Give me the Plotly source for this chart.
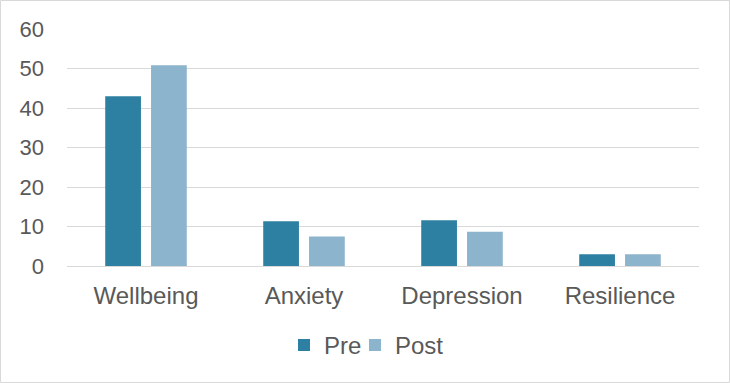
import plotly.graph_objects as go

categories = ["Wellbeing", "Anxiety", "Depression", "Resilience"]
pre = [43, 11.3, 11.6, 3.0]
post = [50.8, 7.5, 8.7, 3.0]
series_names = ["Pre", "Post"]
colors = ["#2E80A3", "#8DB4CD"]

W, H = 730, 383
ml, mr, mt, mb = 67, 31, 29, 117
pw, ph = W - ml - mr, H - mt - mb
FS = 24

def px_x(p):
    return (p - ml) / pw

def px_y(p):
    return (H - mb - p) / ph

fig = go.Figure()
legend_ids = ["legend", "legend2"]
for name, vals, c, lg in zip(series_names, [pre, post], colors, legend_ids):
    fig.add_trace(go.Bar(x=categories, y=vals, name=name, legend=lg,
                         marker=dict(color=c, line=dict(width=0))))

fig.add_shape(type="rect", xref="paper", yref="paper",
              x0=px_x(0.5), x1=px_x(W - 0.5), y0=px_y(H - 0.5), y1=px_y(0.5),
              line=dict(color="#D9D9D9", width=1), fillcolor="rgba(0,0,0,0)", layer="below")

leg_common = dict(orientation="h", y=-0.24, yanchor="top", xanchor="left",
                  font=dict(size=FS, color="#595959"), itemwidth=30,
                  bgcolor="rgba(0,0,0,0)")

fig.update_layout(
    width=W, height=H,
    margin=dict(l=ml, r=mr, t=mt, b=mb),
    paper_bgcolor="white", plot_bgcolor="white",
    barmode="group", bargap=0.42, bargroupgap=0.22,
    font=dict(family="Liberation Sans, Arial, sans-serif", size=FS, color="#595959"),
    showlegend=True,
    legend=dict(x=px_x(284), **leg_common),
    legend2=dict(x=px_x(355), **leg_common),
    xaxis=dict(showgrid=False, showline=True, linecolor="#D9D9D9", linewidth=1,
               ticks="", ticklabelstandoff=8, tickfont=dict(size=FS, color="#595959")),
    yaxis=dict(range=[0, 60], dtick=10, showgrid=True, gridcolor="#D9D9D9", gridwidth=1,
               zeroline=False, showline=False, ticks="", ticklabelstandoff=22,
               tickfont=dict(size=22, color="#595959")),
)

fig.write_html("out.html")
